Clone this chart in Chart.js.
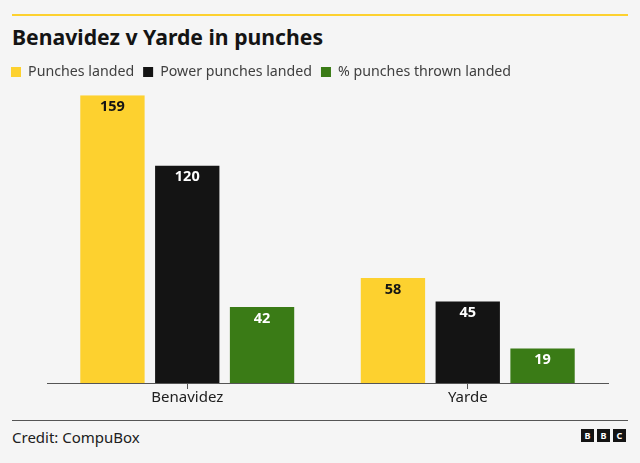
<!DOCTYPE html>
<html>
<head>
<meta charset="utf-8">
<script src="https://cdn.jsdelivr.net/npm/chart.js@4"></script>
<style>
  html, body { margin: 0; padding: 0; background: #f5f5f5; }
  body { width: 640px; height: 463px; position: relative; overflow: hidden; font-family: "Noto Sans", sans-serif; }
  .topline { position: absolute; left: 12px; top: 14px; width: 616px; height: 2px; background: #fdd12f; }
  h1 { position: absolute; left: 12px; top: 22px; margin: 0; font-size: 21.2px; font-weight: 700; color: #141414; }
  #wrap { position: absolute; left: 0; top: 56px; width: 640px; height: 351px; }
  .sep { position: absolute; left: 12px; top: 420px; width: 616px; height: 1px; background: #555; }
  .credit { position: absolute; left: 12px; top: 427px; font-size: 15px; color: #202020; }
  .bbc { position: absolute; right: 14px; top: 429px; display: flex; gap: 3px; }
  .bbc span { width: 13px; height: 13px; background: #141414; color: #fff; font: bold 9px "Noto Sans", sans-serif; display: flex; align-items: center; justify-content: center; }
</style>
</head>
<body>
<div class="topline"></div>
<h1>Benavidez v Yarde in punches</h1>
<div id="wrap"><canvas id="chart"></canvas></div>
<div class="sep"></div>
<div class="credit">Credit: CompuBox</div>
<div class="bbc"><span>B</span><span>B</span><span>C</span></div>
<script>
const boxers = ["Benavidez", "Yarde"];
const punchesLanded = [159, 58];
const powerPunchesLanded = [120, 45];
const pctThrownLanded = [42, 19];

const seriesNames = ["Punches landed", "Power punches landed", "% punches thrown landed"];
const seriesColors = ["#fdd12f", "#141414", "#3a7b16"];
const labelColors = ["#141414", "#ffffff", "#ffffff"];

// small gap between legend and bars
const legendGap = {
  id: "legendGap",
  beforeInit(chart) {
    const fit = chart.legend.fit;
    chart.legend.fit = function () {
      fit.bind(chart.legend)();
      this.height += 6;
    };
  }
};

const valueLabels = {
  id: "valueLabels",
  afterDatasetsDraw(chart) {
    const ctx = chart.ctx;
    ctx.save();
    ctx.font = "bold 14.5px 'Noto Sans', sans-serif";
    ctx.textAlign = "center";
    ctx.textBaseline = "middle";
    chart.data.datasets.forEach((ds, i) => {
      chart.getDatasetMeta(i).data.forEach((bar, j) => {
        ctx.fillStyle = labelColors[i];
        ctx.fillText(ds.data[j], bar.x, bar.y + 11.5);
      });
    });
    ctx.restore();
  }
};

new Chart(document.getElementById("chart"), {
  type: "bar",
  data: {
    labels: boxers,
    datasets: [
      { label: seriesNames[0], data: punchesLanded, backgroundColor: seriesColors[0] },
      { label: seriesNames[1], data: powerPunchesLanded, backgroundColor: seriesColors[1] },
      { label: seriesNames[2], data: pctThrownLanded, backgroundColor: seriesColors[2] }
    ]
  },
  options: {
    responsive: true,
    maintainAspectRatio: false,
    animation: false,
    layout: { padding: { left: 2, right: 32, top: 0, bottom: 0 } },
    datasets: { bar: { categoryPercentage: 0.8, barPercentage: 0.86 } },
    plugins: {
      tooltip: { enabled: false },
      legend: {
        position: "top",
        align: "start",
        labels: {
          boxWidth: 10, boxHeight: 10, padding: 9,
          color: "#404040",
          font: { family: "'Noto Sans', sans-serif", size: 14.2 }
        }
      }
    },
    scales: {
      x: {
        grid: { display: true, drawOnChartArea: false, offset: false, tickLength: 6, color: "#555" },
        border: { display: true, color: "#555" },
        ticks: { color: "#202020", font: { family: "'Noto Sans', sans-serif", size: 15 }, padding: 0 }
      },
      y: {
        min: 0, max: 159,
        grid: { display: false },
        border: { display: false },
        ticks: { display: false },
        afterFit(scale) { scale.width = 45; }
      }
    }
  },
  plugins: [legendGap, valueLabels]
});
</script>
</body>
</html>
